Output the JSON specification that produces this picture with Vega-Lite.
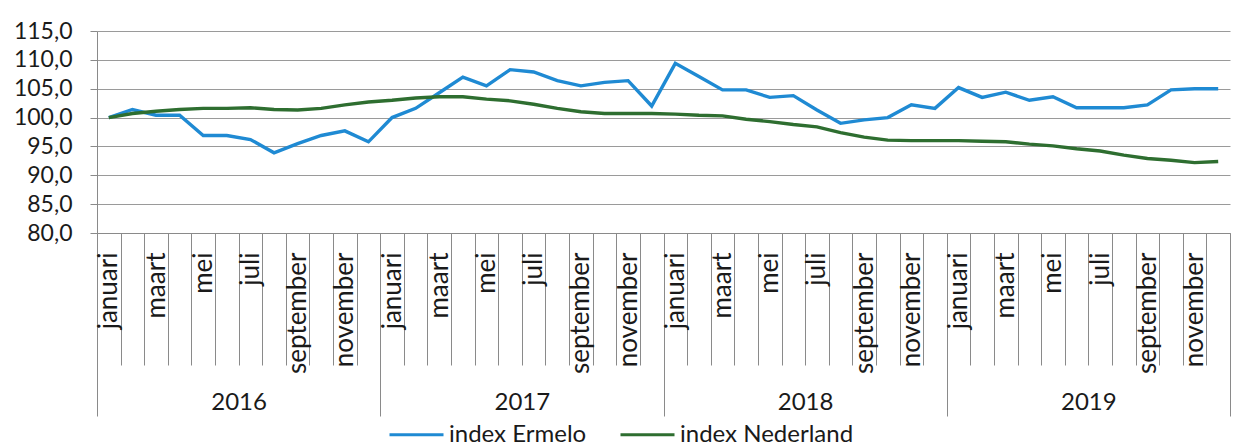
{
  "$schema": "https://vega.github.io/schema/vega-lite/v6.json",
  "width": 1133,
  "height": 202,
  "autosize": "none",
  "padding": {"left": 97, "top": 31, "right": 22, "bottom": 213},
  "background": "white",
  "config": {
    "view": {"stroke": null},
    "font": "Lato",
    "axis": {"labelColor": "#1a1a1a", "labelFont": "Lato", "domainColor": "#8a8a8a", "tickColor": "#8a8a8a", "gridColor": "#9a9a9a", "title": null}
  },
  "datasets": {
    "reeks": [
      {"maand": "2016-01", "serie": "index Ermelo", "waarde": 100.0},
      {"maand": "2016-02", "serie": "index Ermelo", "waarde": 101.4},
      {"maand": "2016-03", "serie": "index Ermelo", "waarde": 100.4},
      {"maand": "2016-04", "serie": "index Ermelo", "waarde": 100.4},
      {"maand": "2016-05", "serie": "index Ermelo", "waarde": 96.9},
      {"maand": "2016-06", "serie": "index Ermelo", "waarde": 96.9},
      {"maand": "2016-07", "serie": "index Ermelo", "waarde": 96.2},
      {"maand": "2016-08", "serie": "index Ermelo", "waarde": 93.9},
      {"maand": "2016-09", "serie": "index Ermelo", "waarde": 95.5},
      {"maand": "2016-10", "serie": "index Ermelo", "waarde": 96.9},
      {"maand": "2016-11", "serie": "index Ermelo", "waarde": 97.7},
      {"maand": "2016-12", "serie": "index Ermelo", "waarde": 95.8},
      {"maand": "2017-01", "serie": "index Ermelo", "waarde": 100.0},
      {"maand": "2017-02", "serie": "index Ermelo", "waarde": 101.6},
      {"maand": "2017-03", "serie": "index Ermelo", "waarde": 104.3},
      {"maand": "2017-04", "serie": "index Ermelo", "waarde": 107.0},
      {"maand": "2017-05", "serie": "index Ermelo", "waarde": 105.5},
      {"maand": "2017-06", "serie": "index Ermelo", "waarde": 108.3},
      {"maand": "2017-07", "serie": "index Ermelo", "waarde": 107.9},
      {"maand": "2017-08", "serie": "index Ermelo", "waarde": 106.4},
      {"maand": "2017-09", "serie": "index Ermelo", "waarde": 105.5},
      {"maand": "2017-10", "serie": "index Ermelo", "waarde": 106.1},
      {"maand": "2017-11", "serie": "index Ermelo", "waarde": 106.4},
      {"maand": "2017-12", "serie": "index Ermelo", "waarde": 102.0},
      {"maand": "2018-01", "serie": "index Ermelo", "waarde": 109.4},
      {"maand": "2018-02", "serie": "index Ermelo", "waarde": 107.1},
      {"maand": "2018-03", "serie": "index Ermelo", "waarde": 104.8},
      {"maand": "2018-04", "serie": "index Ermelo", "waarde": 104.8},
      {"maand": "2018-05", "serie": "index Ermelo", "waarde": 103.5},
      {"maand": "2018-06", "serie": "index Ermelo", "waarde": 103.8},
      {"maand": "2018-07", "serie": "index Ermelo", "waarde": 101.3},
      {"maand": "2018-08", "serie": "index Ermelo", "waarde": 99.0},
      {"maand": "2018-09", "serie": "index Ermelo", "waarde": 99.6},
      {"maand": "2018-10", "serie": "index Ermelo", "waarde": 100.0},
      {"maand": "2018-11", "serie": "index Ermelo", "waarde": 102.2},
      {"maand": "2018-12", "serie": "index Ermelo", "waarde": 101.6},
      {"maand": "2019-01", "serie": "index Ermelo", "waarde": 105.2},
      {"maand": "2019-02", "serie": "index Ermelo", "waarde": 103.5},
      {"maand": "2019-03", "serie": "index Ermelo", "waarde": 104.4},
      {"maand": "2019-04", "serie": "index Ermelo", "waarde": 103.0},
      {"maand": "2019-05", "serie": "index Ermelo", "waarde": 103.6},
      {"maand": "2019-06", "serie": "index Ermelo", "waarde": 101.7},
      {"maand": "2019-07", "serie": "index Ermelo", "waarde": 101.7},
      {"maand": "2019-08", "serie": "index Ermelo", "waarde": 101.7},
      {"maand": "2019-09", "serie": "index Ermelo", "waarde": 102.2},
      {"maand": "2019-10", "serie": "index Ermelo", "waarde": 104.8},
      {"maand": "2019-11", "serie": "index Ermelo", "waarde": 105.0},
      {"maand": "2019-12", "serie": "index Ermelo", "waarde": 105.0},
      {"maand": "2016-01", "serie": "index Nederland", "waarde": 100.0},
      {"maand": "2016-02", "serie": "index Nederland", "waarde": 100.7},
      {"maand": "2016-03", "serie": "index Nederland", "waarde": 101.1},
      {"maand": "2016-04", "serie": "index Nederland", "waarde": 101.4},
      {"maand": "2016-05", "serie": "index Nederland", "waarde": 101.6},
      {"maand": "2016-06", "serie": "index Nederland", "waarde": 101.6},
      {"maand": "2016-07", "serie": "index Nederland", "waarde": 101.7},
      {"maand": "2016-08", "serie": "index Nederland", "waarde": 101.4},
      {"maand": "2016-09", "serie": "index Nederland", "waarde": 101.3},
      {"maand": "2016-10", "serie": "index Nederland", "waarde": 101.6},
      {"maand": "2016-11", "serie": "index Nederland", "waarde": 102.2},
      {"maand": "2016-12", "serie": "index Nederland", "waarde": 102.7},
      {"maand": "2017-01", "serie": "index Nederland", "waarde": 103.0},
      {"maand": "2017-02", "serie": "index Nederland", "waarde": 103.4},
      {"maand": "2017-03", "serie": "index Nederland", "waarde": 103.6},
      {"maand": "2017-04", "serie": "index Nederland", "waarde": 103.6},
      {"maand": "2017-05", "serie": "index Nederland", "waarde": 103.2},
      {"maand": "2017-06", "serie": "index Nederland", "waarde": 102.9},
      {"maand": "2017-07", "serie": "index Nederland", "waarde": 102.3},
      {"maand": "2017-08", "serie": "index Nederland", "waarde": 101.6},
      {"maand": "2017-09", "serie": "index Nederland", "waarde": 101.0},
      {"maand": "2017-10", "serie": "index Nederland", "waarde": 100.7},
      {"maand": "2017-11", "serie": "index Nederland", "waarde": 100.7},
      {"maand": "2017-12", "serie": "index Nederland", "waarde": 100.7},
      {"maand": "2018-01", "serie": "index Nederland", "waarde": 100.6},
      {"maand": "2018-02", "serie": "index Nederland", "waarde": 100.4},
      {"maand": "2018-03", "serie": "index Nederland", "waarde": 100.3},
      {"maand": "2018-04", "serie": "index Nederland", "waarde": 99.7},
      {"maand": "2018-05", "serie": "index Nederland", "waarde": 99.3},
      {"maand": "2018-06", "serie": "index Nederland", "waarde": 98.8},
      {"maand": "2018-07", "serie": "index Nederland", "waarde": 98.4},
      {"maand": "2018-08", "serie": "index Nederland", "waarde": 97.4},
      {"maand": "2018-09", "serie": "index Nederland", "waarde": 96.6},
      {"maand": "2018-10", "serie": "index Nederland", "waarde": 96.1},
      {"maand": "2018-11", "serie": "index Nederland", "waarde": 96.0},
      {"maand": "2018-12", "serie": "index Nederland", "waarde": 96.0},
      {"maand": "2019-01", "serie": "index Nederland", "waarde": 96.0},
      {"maand": "2019-02", "serie": "index Nederland", "waarde": 95.9},
      {"maand": "2019-03", "serie": "index Nederland", "waarde": 95.8},
      {"maand": "2019-04", "serie": "index Nederland", "waarde": 95.4},
      {"maand": "2019-05", "serie": "index Nederland", "waarde": 95.1},
      {"maand": "2019-06", "serie": "index Nederland", "waarde": 94.6},
      {"maand": "2019-07", "serie": "index Nederland", "waarde": 94.2},
      {"maand": "2019-08", "serie": "index Nederland", "waarde": 93.5},
      {"maand": "2019-09", "serie": "index Nederland", "waarde": 92.9},
      {"maand": "2019-10", "serie": "index Nederland", "waarde": 92.6},
      {"maand": "2019-11", "serie": "index Nederland", "waarde": 92.2},
      {"maand": "2019-12", "serie": "index Nederland", "waarde": 92.4}
    ],
    "jaren": [
      {"jaar": "2016"}, {"jaar": "2017"}, {"jaar": "2018"}, {"jaar": "2019"}
    ]
  },
  "resolve": {"scale": {"x": "independent"}},
  "layer": [
    {
      "data": {"name": "jaren"},
      "mark": {"type": "point", "opacity": 0},
      "encoding": {
        "x": {
          "field": "jaar", "type": "ordinal",
          "scale": {"type": "band", "paddingInner": 0, "paddingOuter": 0},
          "axis": {
            "orient": "bottom", "domain": false, "grid": false,
            "tickBand": "extent", "tickSize": 183, "tickWidth": 1,
            "labelAngle": 0, "labelFontSize": 24, "labelBaseline": "middle",
            "labelPadding": -14
          }
        },
        "y": {"datum": 97.5, "type": "quantitative"}
      }
    },
    {
      "data": {"name": "reeks"},
      "mark": {"type": "line", "strokeWidth": 3.4},
      "encoding": {
        "x": {
          "field": "maand", "type": "ordinal",
          "scale": {"type": "band", "paddingInner": 0, "paddingOuter": 0},
          "axis": {
            "orient": "bottom", "domain": true, "grid": false,
            "tickBand": "extent", "tickSize": 132, "tickWidth": 1,
            "labelAngle": 270, "labelAlign": "right", "labelBaseline": "middle",
            "labelFontSize": 26, "labelPadding": -113, "labelOverlap": false,
            "labelExpr": "['januari','','maart','','mei','','juli','','september','','november',''][toNumber(substring(datum.value,5,7))-1]"
          }
        },
        "y": {
          "field": "waarde", "type": "quantitative",
          "scale": {"domain": [80, 115], "nice": false, "zero": false},
          "axis": {
            "values": [80, 85, 90, 95, 100, 105, 110, 115],
            "tickCount": 8,
            "labelOverlap": false,
            "labelExpr": "replace(format(datum.value, '.1f'), '.', ',')",
            "labelFontSize": 23, "labelPadding": 18, "tickSize": 7,
            "grid": true, "domain": true
          }
        },
        "color": {
          "field": "serie", "type": "nominal",
          "scale": {"domain": ["index Ermelo", "index Nederland"], "range": ["#1f8ad3", "#2e6e30"]},
          "legend": {
            "title": null, "orient": "none", "legendX": 291, "legendY": 375,
            "direction": "horizontal", "symbolType": "stroke", "symbolSize": 2916,
            "symbolStrokeWidth": 3, "labelFontSize": 24, "labelFont": "Lato",
            "labelColor": "#1a1a1a", "labelLimit": 300, "labelOffset": 4,
            "columnPadding": 27, "padding": 0
          }
        }
      }
    }
  ]
}
